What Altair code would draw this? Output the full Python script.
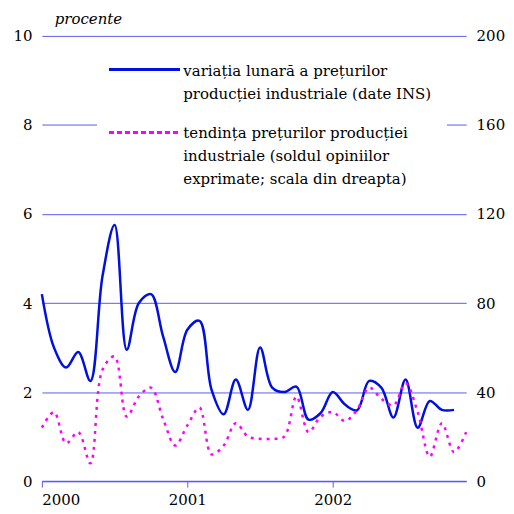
import altair as alt
import pandas as pd

months = pd.date_range("2000-01-01", "2002-12-01", freq="MS").strftime("%Y-%m").tolist()

variatie = [4.2, 3.0, 2.55, 2.9, 2.25, 4.6, 5.75, 2.95, 4.0, 4.2, 3.25, 2.45,
            3.4, 3.6, 2.05, 1.5, 2.28, 1.6, 3.0, 2.1, 2.0, 2.12, 1.38, 1.53,
            2.0, 1.72, 1.59, 2.25, 2.1, 1.43, 2.28, 1.2, 1.8, 1.6, 1.6]

tendinta = [24, 31, 17, 22, 8, 50, 56, 29, 38, 42, 28, 16,
            25, 33, 12, 16, 26, 20, 19, 19, 20, 38, 22, 29,
            31, 27, 32, 42, 37, 34, 44, 31, 11, 26, 13, 22]

rows = []
for i, m in enumerate(months):
    rows.append({"idx": i, "luna": m,
                 "variatie": variatie[i] if i < len(variatie) else None,
                 "tendinta": tendinta[i]})
df = pd.DataFrame(rows)

FONT = "DejaVu Serif"
FS = 15
GRID = "#5b5bf5"
BLUE = "#0010e0"
MAG = "#ff00ff"

xenc = alt.X("idx:Q", scale=alt.Scale(domain=[0, 35], nice=False, zero=False),
             axis=alt.Axis(values=[0, 12, 24], labelExpr="2000 + datum.value/12",
                           title=None, grid=False, domainColor=GRID, tickColor=GRID,
                           tickSize=6, labelFont=FONT, labelFontSize=FS,
                           labelColor="black", labelPadding=5, domainWidth=1.5))

base = alt.Chart(df)

left = base.mark_line(color=BLUE, strokeWidth=2.5, interpolate="catmull-rom").encode(
    x=xenc,
    y=alt.Y("variatie:Q", scale=alt.Scale(domain=[0, 10], nice=False),
            axis=alt.Axis(values=[0, 2, 4, 6, 8, 10], title=None, grid=True,
                          gridColor=GRID, gridWidth=1, domain=False, ticks=False,
                          labelFont=FONT, labelFontSize=FS, labelColor="black",
                          labelPadding=10))
).transform_filter("isValid(datum.variatie)")

right = base.mark_line(color=MAG, strokeWidth=2.5, strokeDash=[3, 5],
                       interpolate="catmull-rom").encode(
    x=xenc,
    y=alt.Y("tendinta:Q", scale=alt.Scale(domain=[0, 200], nice=False),
            axis=alt.Axis(values=[0, 40, 80, 120, 160, 200], orient="right",
                          title=None, grid=False, domain=False, ticks=False,
                          labelFont=FONT, labelFontSize=FS, labelColor="black",
                          labelPadding=10))
)

legbg = alt.Chart(df).mark_rect(color="white").encode(
    x=alt.value(56), x2=alt.value(406), y=alt.value(84), y2=alt.value(95))

leg_blue = alt.Chart(df).mark_rule(color=BLUE, strokeWidth=2.5).encode(
    x=alt.value(68), x2=alt.value(138), y=alt.value(34))
leg_mag = alt.Chart(df).mark_rule(color=MAG, strokeWidth=2.5, strokeDash=[4, 4]).encode(
    x=alt.value(68), x2=alt.value(138), y=alt.value(97))

def txt(s, x, y, italic=False):
    return alt.Chart(pd.DataFrame({"t": [s]})).mark_text(
        font=FONT, fontSize=FS, align="left", baseline="middle", color="black",
        fontStyle="italic" if italic else "normal").encode(
        text="t:N", x=alt.value(x), y=alt.value(y))

texts = [
    txt("variația lunară a prețurilor", 142, 35),
    txt("producției industriale (date INS)", 142, 58),
    txt("tendința prețurilor producției", 142, 98),
    txt("industriale (soldul opiniilor", 142, 121),
    txt("exprimate; scala din dreapta)", 142, 144),
    txt("procente", 13, -17, italic=True),
]

chart = alt.layer(left, right, legbg, leg_blue, leg_mag, *texts).resolve_scale(
    y="independent"
).properties(
    width=426, height=447,
    autosize=alt.AutoSizeParams(type="none"),
    padding={"left": 34, "top": 27, "right": 40, "bottom": 30},
).configure_view(stroke=None)

chart.save("out.html", embed_options={"renderer": "svg", "actions": False})
